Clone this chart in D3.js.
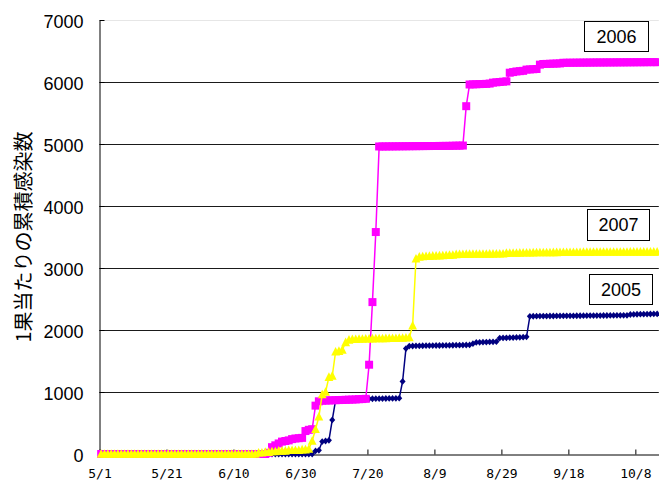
<!DOCTYPE html>
<html>
<head>
<meta charset="utf-8">
<script src="https://cdn.jsdelivr.net/npm/d3@7"></script>
<style>
  html, body { margin: 0; padding: 0; background: #fff; }
  svg { display: block; }
</style>
</head>
<body>
<svg id="chart" width="659" height="480"></svg>
<script>
// Season runs 5/1 .. 10/14, one value per day
const seasonStart = new Date(2006, 4, 1);
const seasonEnd = new Date(2006, 9, 15);
const categories = d3.timeDay.range(seasonStart, seasonEnd).map(d => (d.getMonth() + 1) + "/" + d.getDate());

const tickLabels = ["5/1", "5/21", "6/10", "6/30", "7/20", "8/9", "8/29", "9/18", "10/8"];
const yTicks = [0, 1000, 2000, 3000, 4000, 5000, 6000, 7000];

// Cumulative infections per fruit, by day
const s2005 = [
  0,0,0,0,0,0,0,0,0,0, 0,0,0,0,0,0,0,0,0,0,
  0,0,0,0,0,0,0,0,0,0, 0,0,0,0,0,0,0,0,0,0,
  0,0,0,0,0,0,0,0,0,0, 0,0,0,0,0,0,0,0,0,0,
  0,0,0,0,50,60,200,210,220,550,
  870,880,882,884,885,886,887,888,889,890,
  890,891,892,893,894,895,896,897,898,900,
  1170,1700,1740,1742,1744,1745,1746,1747,1748,1749,
  1750,1750,1751,1752,1753,1754,1755,1756,1757,1758,
  1760,1780,1800,1802,1804,1806,1808,1810,1812,1870,
  1872,1874,1876,1878,1880,1882,1885,1890,2220,2222,
  2223,2224,2225,2225,2226,2226,2227,2227,2228,2228,
  2229,2229,2230,2230,2231,2231,2232,2232,2233,2233,
  2234,2234,2235,2235,2236,2236,2237,2237,2250,2252,
  2254,2255,2256,2257,2258,2259,2260
];
const s2006 = [
  0,0,0,0,0,0,0,0,0,0, 0,0,0,0,0,0,0,0,0,0,
  0,0,0,0,0,0,0,0,0,0, 0,0,0,0,0,0,0,0,0,0,
  0,0,0,0,0,0,0,0,0,0,
  20,110,140,170,200,210,220,240,250,255,
  260,370,390,400,780,850,860,862,864,866,
  868,870,872,874,876,878,880,884,886,890,
  1440,2450,3580,4960,4960,4961,4961,4962,4962,4963,
  4963,4964,4964,4965,4965,4966,4966,4967,4967,4968,
  4968,4969,4969,4970,4970,4972,4973,4974,4975,5610,
  5960,5962,5964,5966,5968,5970,5975,5990,5995,6000,
  6005,6010,6150,6160,6170,6175,6180,6200,6203,6206,
  6210,6280,6290,6292,6294,6296,6298,6300,6310,6310,
  6311,6311,6312,6312,6313,6313,6314,6314,6315,6315,
  6315,6316,6316,6316,6317,6317,6317,6318,6318,6318,
  6319,6319,6319,6320,6320,6320,6320
];
const s2007 = [
  0,0,0,0,0,0,0,0,0,0, 0,0,0,0,0,0,0,0,0,0,
  0,0,0,0,0,0,0,0,0,0, 0,0,0,0,0,0,0,0,0,0,
  0,0,0,0,0,0,0,20,20,30,
  30,40,40,50,50,50,60,60,60,60,
  70,70,80,210,400,600,960,1000,1240,1260,
  1650,1660,1680,1800,1840,1850,1852,1854,1856,1858,
  1860,1861,1862,1863,1864,1865,1866,1867,1868,1870,
  1872,1875,1880,2070,3150,3180,3185,3190,3192,3195,
  3198,3200,3202,3205,3208,3210,3220,3221,3222,3223,
  3224,3225,3226,3226,3227,3227,3228,3228,3229,3229,
  3230,3240,3241,3242,3243,3244,3245,3246,3247,3248,
  3249,3250,3250,3251,3251,3252,3252,3253,3253,3254,
  3254,3255,3255,3255,3256,3256,3256,3257,3257,3257,
  3258,3258,3258,3258,3259,3259,3259,3259,3260,3260,
  3260,3260,3260,3260,3260,3260,3260
];

const seriesNames = ["2005", "2006", "2007"];
const seriesColors = ["#000080", "#FF00FF", "#FFFF00"];
const seriesValues = [s2005, s2006, s2007];
const yTitle = "1果当たりの累積感染数";

const svg = d3.select("#chart");
const plotLeft = 99.5, plotRight = 658.8, plotTop = 20, plotBottom = 454;

const x = d3.scaleBand().domain(d3.range(categories.length)).range([plotLeft, plotRight]).padding(0);
const cx = i => x(i) + x.bandwidth() / 2;
const y = d3.scaleLinear().domain([0, 7000]).range([plotBottom, plotTop]);

// horizontal gridlines
svg.append("g").selectAll("line")
  .data(yTicks.filter(v => v > 0))
  .join("line")
  .attr("x1", plotLeft).attr("x2", plotRight)
  .attr("y1", v => Math.round(y(v)) + 0.5).attr("y2", v => Math.round(y(v)) + 0.5)
  .attr("stroke", v => v === 7000 ? "#e6e6e6" : "#1a1a1a")
  .attr("stroke-width", 1);

// y axis
const yAxis = svg.append("g")
  .attr("transform", `translate(${Math.round(plotLeft) - 0.5},0)`)
  .call(d3.axisLeft(y).tickValues(yTicks).tickSizeInner(-5).tickSizeOuter(0).tickPadding(16).tickFormat(d3.format("d")));
yAxis.select(".domain").attr("stroke", "#000");
yAxis.selectAll(".tick line").attr("stroke", "#000");
yAxis.selectAll("text")
  .attr("font-family", "'Liberation Sans', Arial, sans-serif")
  .attr("font-size", 18).attr("fill", "#000").attr("dy", "0.42em");

// x axis, ticks every 20 days at category boundaries
const tickIdx = tickLabels.map(l => categories.indexOf(l));
const xAxisScale = d3.scaleLinear().domain([0, categories.length]).range([plotLeft, plotRight]);
const xAxis = svg.append("g")
  .attr("transform", `translate(0,${Math.round(plotBottom) + 0.5})`)
  .call(d3.axisBottom(xAxisScale).tickValues(tickIdx).tickSizeInner(-5).tickSizeOuter(0)
    .tickFormat((d, i) => tickLabels[i]));
xAxis.select(".domain").attr("stroke", "#000");
xAxis.selectAll(".tick line").attr("stroke", "#000");
xAxis.selectAll("text")
  .attr("font-family", "'DejaVu Sans Mono', monospace")
  .attr("font-size", 13).attr("fill", "#000")
  .attr("y", 23).attr("dy", null);

// marker shapes
const markerPath = {
  "2005": "M0,-3.4L3,0L0,3.4L-3,0Z",
  "2006": "M-4,-4H4V4H-4Z",
  "2007": "M0,-4.8L4.4,3.8H-4.4Z"
};

const line = d3.line().x((d, i) => cx(i)).y(d => y(d));

seriesNames.forEach((name, k) => {
  const g = svg.append("g");
  g.append("path")
    .datum(seriesValues[k])
    .attr("d", line)
    .attr("fill", "none")
    .attr("stroke", seriesColors[k])
    .attr("stroke-width", 1.5);
  g.selectAll("path.m")
    .data(seriesValues[k])
    .join("path")
    .attr("class", "m")
    .attr("transform", (d, i) => `translate(${cx(i)},${y(d)})`)
    .attr("d", markerPath[name])
    .attr("fill", seriesColors[k]);
});

// series labels in boxes
const labelBoxes = [
  { name: "2006", x: 584.5, y: 21.5, w: 64, h: 30 },
  { name: "2007", x: 587.5, y: 209.5, w: 62, h: 31 },
  { name: "2005", x: 589.5, y: 274.5, w: 63, h: 30 }
];
const lb = svg.append("g").selectAll("g").data(labelBoxes).join("g");
lb.append("rect")
  .attr("x", d => d.x).attr("y", d => d.y).attr("width", d => d.w).attr("height", d => d.h)
  .attr("fill", "#fff").attr("stroke", "#000").attr("stroke-width", 1);
lb.append("text")
  .attr("x", d => d.x + d.w / 2).attr("y", d => d.y + d.h / 2)
  .attr("dy", "0.36em").attr("text-anchor", "middle")
  .attr("font-family", "'Liberation Sans', Arial, sans-serif")
  .attr("font-size", 18).attr("fill", "#000")
  .text(d => d.name);

// y axis title
svg.append("text")
  .attr("transform", "translate(24,237) rotate(-90)")
  .attr("text-anchor", "middle")
  .attr("dy", "0.35em")
  .attr("font-family", "'Noto Sans CJK JP', sans-serif")
  .attr("font-size", 20).attr("fill", "#000")
  .text(yTitle);
</script>
</body>
</html>
